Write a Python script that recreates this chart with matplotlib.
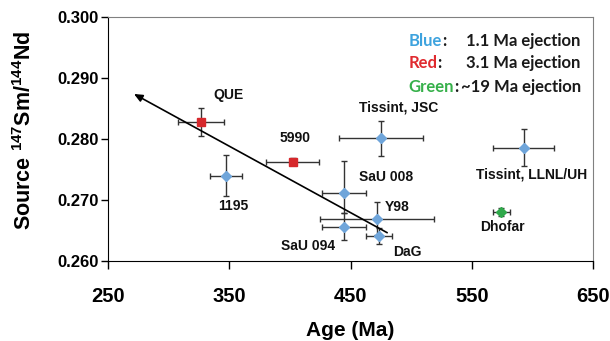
import matplotlib
matplotlib.use("Agg")
import matplotlib.pyplot as plt

plt.rcParams['font.family'] = ['Liberation Sans', 'DejaVu Sans']
plt.rcParams['font.weight'] = 'bold'
plt.rcParams['mathtext.fontset'] = 'custom'
plt.rcParams['mathtext.rm'] = 'Liberation Sans:bold'
plt.rcParams['mathtext.bf'] = 'Liberation Sans:bold'

# meteorite data (age in Ma, source 147Sm/144Nd)
names = ['QUE', '5990', '1195', 'Tissint, JSC', 'SaU 008', 'SaU 094',
         'Y98', 'DaG', 'Tissint, LLNL/UH', 'Dhofar']
group = ['red', 'red', 'blue', 'blue', 'blue', 'blue',
         'blue', 'blue', 'blue', 'green']
age = [326.5, 402.1, 347.1, 475.2, 444.7, 444.7, 471.5, 473.6, 593.0, 574.3]
age_err = [18.7, 22.1, 13.0, 34.9, 18.0, 18.0, 47.0, 10.7, 25.2, 7.0]
ratio = [0.2828, 0.2763, 0.2740, 0.2801, 0.2712, 0.2656, 0.2669, 0.2641, 0.2786, 0.2680]
ratio_err_lo = [0.0023, 0.0005, 0.0034, 0.0029, 0.0033, 0.0022, 0.0027, 0.0013, 0.0030, 0.0006]
ratio_err_hi = [0.0023, 0.0005, 0.0034, 0.0029, 0.0052, 0.0022, 0.0027, 0.0013, 0.0030, 0.0006]

# trend arrow (tail -> head)
trend_age = [480.2, 271.2]
trend_ratio = [0.2646, 0.2874]

x_ticks = [250, 350, 450, 550, 650]
y_ticks = [0.260, 0.270, 0.280, 0.290, 0.300]

# label offsets in pixels from each point
label_off = [(28, 27), (3, 24), (7, -30), (17, 31), (42, 16),
             (-36, -19), (21, 12), (28, -16), (8, -27), (1, -15)]

colors = {'blue': '#6fa5da', 'red': '#d6282c', 'green': '#2fa84a'}
markers = {'blue': 'D', 'red': 's', 'green': 'D'}
msize = {'blue': 5, 'red': 5.3, 'green': 5}

fig = plt.figure(figsize=(6.1, 3.41), dpi=100)
ax = fig.add_axes([0.1775, 0.2355, 0.7945, 0.7138])

for i in range(len(names)):
    g = group[i]
    ax.errorbar(age[i], ratio[i], xerr=age_err[i],
                yerr=[[ratio_err_lo[i]], [ratio_err_hi[i]]],
                fmt=markers[g], color=colors[g], ms=msize[g],
                ecolor='#333333', elinewidth=1, capsize=2.5, capthick=1,
                zorder=3)
    ax.annotate(names[i], (age[i], ratio[i]), xytext=label_off[i],
                textcoords='offset pixels', ha='center', va='center',
                fontsize=10, fontweight='bold', color='#111111')

ax.annotate('', xy=(trend_age[1], trend_ratio[1]),
            xytext=(trend_age[0], trend_ratio[0]),
            arrowprops=dict(arrowstyle='-|>,head_length=0.5,head_width=0.22',
                            color='black', lw=1.2,
                            mutation_scale=10, shrinkA=0, shrinkB=0))

ax.set_xlim(250, 650)
ax.set_ylim(0.260, 0.300)
ax.set_xticks(x_ticks)
ax.set_yticks(y_ticks)
ax.set_yticklabels(['%.3f' % v for v in y_ticks])
ax.tick_params(axis='x', direction='out', length=6, width=1, labelsize=14.5, pad=13)
ax.tick_params(axis='y', direction='out', length=5, width=1, labelsize=12, pad=2)
for lab in ax.get_xticklabels() + ax.get_yticklabels():
    lab.set_fontweight('bold')
for s in ['top', 'right']:
    ax.spines[s].set_color('#808080')

ax.set_xlabel('Age (Ma)', fontsize=15, fontweight='bold', va='center')
ax.xaxis.set_label_coords(0.5, -0.285)
ax.set_ylabel(r'Source $^{147}$Sm/$^{144}$Nd', fontsize=15.5, fontweight='bold',
              va='center')
ax.yaxis.set_label_coords(-0.172, 0.537)

# colour key
key_words = ['Blue', 'Red', 'Green']
key_text = ['1.1 Ma ejection', '3.1 Ma ejection', '~19 Ma ejection']
key_colors = ['#3ea3de', '#e02a2f', '#36b04a']
key_y = [0.904, 0.811, 0.715]
for w, t, c, yy in zip(key_words, key_text, key_colors, key_y):
    tw = ax.text(0.619, yy, w, transform=ax.transAxes, color=c,
                 fontsize=12, fontweight='bold', family='Lato',
                 ha='left', va='center')
    ax.annotate(':', xy=(1, 0.5), xycoords=tw, va='center', ha='left',
                fontsize=12, fontweight='bold', family='Lato', color='#1a1a1a')
    ax.text(0.975, yy, t, transform=ax.transAxes, color='#1a1a1a',
            fontsize=12, fontweight='bold', family='Lato',
            ha='right', va='center')

fig.savefig('out.png', dpi=100)
